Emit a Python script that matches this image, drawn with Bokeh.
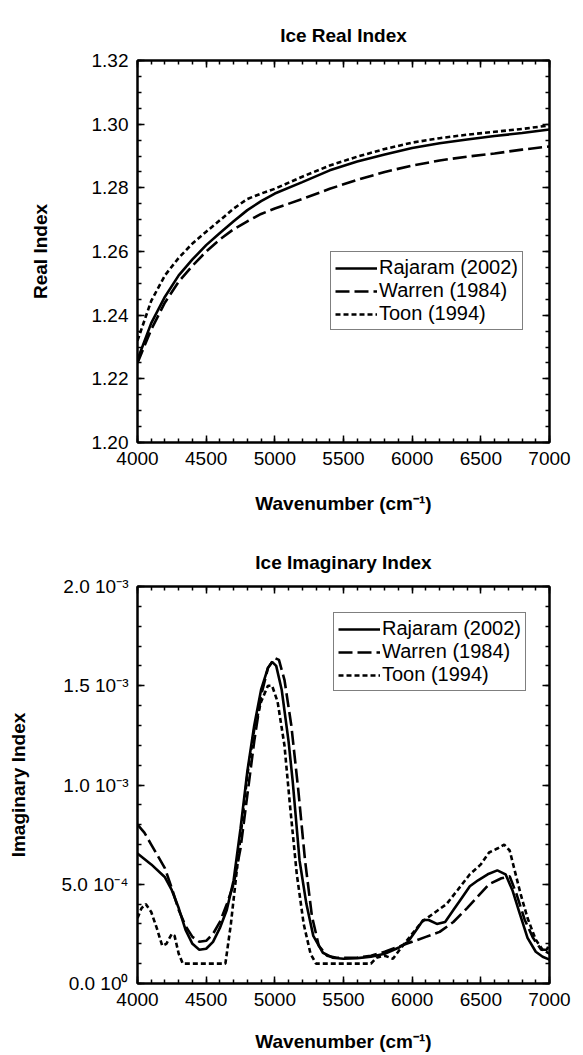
from bokeh.plotting import figure
from bokeh.layouts import column
from bokeh.models import (Range1d, LinearAxis, SingleIntervalTicker, FixedTicker,
                          PrintfTickFormatter, CustomJSTickFormatter, Legend, LegendItem)
from bokeh.embed import file_html
from bokeh.resources import INLINE

# ---------------- data: real index ----------------
wn_real = [4000, 4100, 4200, 4300, 4400, 4500, 4600, 4700, 4800, 4900, 5000,
           5200, 5400, 5600, 5800, 6000, 6200, 6400, 6600, 6800, 7000]
real_rajaram = [1.2260, 1.2375, 1.2458, 1.2525, 1.2575, 1.2620, 1.2658, 1.2695, 1.2730, 1.2758, 1.2782,
                1.2818, 1.2855, 1.2883, 1.2905, 1.2925, 1.2940, 1.2952, 1.2963, 1.2972, 1.2983]
real_warren = [1.2250, 1.2355, 1.2440, 1.2505, 1.2555, 1.2600, 1.2638, 1.2670, 1.2695, 1.2718, 1.2735,
               1.2765, 1.2797, 1.2825, 1.2850, 1.2870, 1.2886, 1.2898, 1.2908, 1.2920, 1.2930]
real_toon = [1.2320, 1.2445, 1.2525, 1.2580, 1.2625, 1.2662, 1.2698, 1.2735, 1.2765, 1.2782, 1.2797,
             1.2835, 1.2870, 1.2898, 1.2922, 1.2942, 1.2956, 1.2967, 1.2976, 1.2985, 1.2996]

# ---------------- data: imaginary index ----------------
wn_imag_rajaram = [4000, 4100, 4200, 4250, 4300, 4350, 4400, 4450, 4500, 4550, 4600, 4650, 4700,
                   4750, 4800, 4850, 4900, 4950, 4980, 5010, 5050, 5100, 5130, 5180, 5230, 5280,
                   5350, 5420, 5500, 5600, 5700, 5800, 5900, 5970, 6030, 6080, 6120, 6180, 6240,
                   6300, 6360, 6420, 6480, 6550, 6620, 6680, 6730, 6780, 6840, 6900, 6950, 7000]
imag_rajaram = [0.655e-3, 0.600e-3, 0.535e-3, 0.470e-3, 0.380e-3, 0.270e-3, 0.200e-3, 0.170e-3,
                0.175e-3, 0.210e-3, 0.280e-3, 0.370e-3, 0.520e-3, 0.780e-3, 1.070e-3, 1.300e-3,
                1.480e-3, 1.590e-3, 1.620e-3, 1.600e-3, 1.480e-3, 1.220e-3, 1.020e-3, 0.620e-3,
                0.400e-3, 0.240e-3, 0.155e-3, 0.130e-3, 0.125e-3, 0.128e-3, 0.135e-3, 0.150e-3,
                0.180e-3, 0.210e-3, 0.270e-3, 0.320e-3, 0.320e-3, 0.300e-3, 0.310e-3, 0.370e-3,
                0.430e-3, 0.490e-3, 0.520e-3, 0.550e-3, 0.570e-3, 0.550e-3, 0.470e-3, 0.360e-3,
                0.230e-3, 0.160e-3, 0.135e-3, 0.120e-3]

wn_imag_warren = [4000, 4050, 4100, 4150, 4200, 4250, 4300, 4350, 4400, 4450, 4500, 4550, 4600,
                  4650, 4700, 4750, 4800, 4850, 4900, 4950, 5000, 5030, 5070, 5120, 5170, 5220,
                  5270, 5320, 5380, 5450, 5600, 5700, 5800, 5900, 6000, 6100, 6200, 6300, 6400,
                  6480, 6560, 6650, 6710, 6760, 6820, 6880, 6940, 6980, 7000]
imag_warren = [0.800e-3, 0.760e-3, 0.700e-3, 0.640e-3, 0.580e-3, 0.480e-3, 0.370e-3, 0.290e-3,
               0.235e-3, 0.210e-3, 0.215e-3, 0.250e-3, 0.310e-3, 0.400e-3, 0.500e-3, 0.680e-3,
               0.950e-3, 1.220e-3, 1.450e-3, 1.590e-3, 1.640e-3, 1.630e-3, 1.530e-3, 1.300e-3,
               0.980e-3, 0.620e-3, 0.340e-3, 0.190e-3, 0.140e-3, 0.130e-3, 0.130e-3, 0.140e-3,
               0.160e-3, 0.185e-3, 0.210e-3, 0.235e-3, 0.260e-3, 0.310e-3, 0.380e-3, 0.440e-3,
               0.500e-3, 0.530e-3, 0.540e-3, 0.450e-3, 0.320e-3, 0.230e-3, 0.170e-3, 0.170e-3,
               0.200e-3]

wn_imag_toon = [4000, 4030, 4060, 4100, 4140, 4180, 4210, 4250, 4270, 4300, 4330, 4640, 4680,
                4720, 4760, 4800, 4850, 4900, 4950, 4980, 5020, 5070, 5110, 5160, 5210, 5260,
                5300, 5700, 5740, 5800, 5860, 5920, 6000, 6070, 6150, 6250, 6330, 6420, 6500,
                6560, 6620, 6670, 6710, 6750, 6790, 6840, 6900, 6950, 7000]
imag_toon = [0.330e-3, 0.380e-3, 0.400e-3, 0.360e-3, 0.280e-3, 0.190e-3, 0.200e-3, 0.250e-3,
             0.240e-3, 0.150e-3, 0.100e-3, 0.100e-3, 0.300e-3, 0.550e-3, 0.800e-3, 1.050e-3,
             1.280e-3, 1.420e-3, 1.500e-3, 1.500e-3, 1.420e-3, 1.200e-3, 0.900e-3, 0.550e-3,
             0.300e-3, 0.150e-3, 0.100e-3, 0.100e-3, 0.130e-3, 0.140e-3, 0.125e-3, 0.180e-3,
             0.250e-3, 0.310e-3, 0.350e-3, 0.400e-3, 0.470e-3, 0.550e-3, 0.600e-3, 0.660e-3,
             0.680e-3, 0.700e-3, 0.670e-3, 0.560e-3, 0.450e-3, 0.330e-3, 0.220e-3, 0.170e-3,
             0.150e-3]

series_names = ["Rajaram (2002)", "Warren (1984)", "Toon (1994)"]
imag_ticks = [0.0, 0.0005, 0.001, 0.0015, 0.002]
imag_tick_labels = ["0.0 10\u2070", "5.0 10\u207b\u2074", "1.0 10\u207b\u00b3",
                    "1.5 10\u207b\u00b3", "2.0 10\u207b\u00b3"]
imag_minor_ticks = [k * 0.0001 for k in range(21)]

FONT = "Liberation Sans"
FS = "19px"
LEG_FS = "20px"
DASHES = ["solid", "14 5", "5 3"]
LW = 2.6


def style_axis(ax, ticker, formatter=None, hide_labels=False):
    ax.ticker = ticker
    if hide_labels:
        ax.formatter = CustomJSTickFormatter(code="return ''")
        ax.major_label_text_font_size = "1px"
        ax.major_label_standoff = 0
    else:
        if formatter is not None:
            ax.formatter = formatter
        ax.major_label_text_font_size = FS
        ax.major_label_standoff = 9
    ax.axis_line_width = 2
    ax.axis_line_color = "black"
    ax.major_tick_in = 7
    ax.major_tick_out = 0
    ax.minor_tick_in = 4
    ax.minor_tick_out = 0
    ax.major_tick_line_width = 1.5
    ax.minor_tick_line_width = 1.5
    ax.major_tick_line_color = "black"
    ax.minor_tick_line_color = "black"
    ax.major_label_text_font = FONT
    ax.major_label_text_color = "black"
    ax.axis_label_text_font = FONT
    ax.axis_label_text_font_size = FS
    ax.axis_label_text_font_style = "bold"
    ax.axis_label_text_color = "black"


def make_fig(height, title, ylabel, y_ticker, y_range, yfmt, mb_left, mb_right, mb_top, mb_bottom,
             title_standoff, xlabel_standoff, ylabel_standoff):
    p = figure(width=583, height=height, output_backend="svg", toolbar_location=None,
               x_range=Range1d(4000, 7000), y_range=y_range,
               min_border_left=mb_left, min_border_right=mb_right,
               min_border_top=mb_top, min_border_bottom=mb_bottom)
    p.title.text = title
    p.title.align = "center"
    p.title.vertical_align = "top"
    p.title.text_font = FONT
    p.title.text_font_size = FS
    p.title.text_font_style = "bold"
    p.title.text_color = "black"
    p.title.standoff = title_standoff
    p.grid.visible = False
    p.outline_line_color = "black"
    p.outline_line_width = 2
    p.background_fill_color = "white"
    p.border_fill_color = "white"
    xa = p.xaxis[0]
    ya = p.yaxis[0]
    style_axis(xa, SingleIntervalTicker(interval=500, num_minor_ticks=5))
    style_axis(ya, y_ticker, yfmt)
    xa.axis_label = "Wavenumber (cm\u207b\u00b9)"
    xa.axis_label_standoff = xlabel_standoff
    ya.axis_label = ylabel
    ya.axis_label_standoff = ylabel_standoff
    top = LinearAxis()
    style_axis(top, SingleIntervalTicker(interval=500, num_minor_ticks=5), hide_labels=True)
    p.add_layout(top, "above")
    right = LinearAxis()
    style_axis(right, y_ticker, hide_labels=True)
    p.add_layout(right, "right")
    return p, xa, ya


def add_legend(p, renderers, loc):
    items = [LegendItem(label=n, renderers=[r]) for n, r in zip(series_names, renderers)]
    lg = Legend(items=items, location=loc)
    lg.label_text_font = FONT
    lg.label_text_font_size = LEG_FS
    lg.label_text_color = "black"
    lg.label_standoff = 2
    lg.glyph_width = 42
    lg.glyph_height = 18
    lg.label_height = 18
    lg.spacing = 0
    lg.padding = 4
    lg.margin = 0
    lg.border_line_color = "black"
    lg.border_line_width = 1.5
    lg.background_fill_color = "white"
    lg.background_fill_alpha = 1
    p.add_layout(lg, "center")


# ---------------- top figure ----------------
p1, xa1, ya1 = make_fig(525, "Ice Real Index", "Real Index",
                        SingleIntervalTicker(interval=0.02, num_minor_ticks=4),
                        Range1d(1.20, 1.32), PrintfTickFormatter(format="%.2f"),
                        137, 34, 60, 83, 26, 25, 38)
r1 = []
for ys, d in zip([real_rajaram, real_warren, real_toon], DASHES):
    r1.append(p1.line(wn_real, ys, line_color="black", line_width=LW, line_dash=d))
add_legend(p1, r1, (193, 112))

# ---------------- bottom figure ----------------
p2, xa2, ya2 = make_fig(530, "Ice Imaginary Index", "Imaginary Index",
                        FixedTicker(ticks=imag_ticks, minor_ticks=imag_minor_ticks),
                        Range1d(0, 0.002), None,
                        134, 24, 61, 72, 24, 22, 30)
ya2.major_label_overrides = dict(zip(imag_ticks, imag_tick_labels))
r2 = []
for xs, ys, d in zip([wn_imag_rajaram, wn_imag_warren, wn_imag_toon],
                     [imag_rajaram, imag_warren, imag_toon], DASHES):
    r2.append(p2.line(xs, ys, line_color="black", line_width=LW, line_dash=d))
add_legend(p2, r2, (196, 292))

layout = column(p1, p2, spacing=0)
open("out.html", "w").write(file_html(layout, INLINE))
